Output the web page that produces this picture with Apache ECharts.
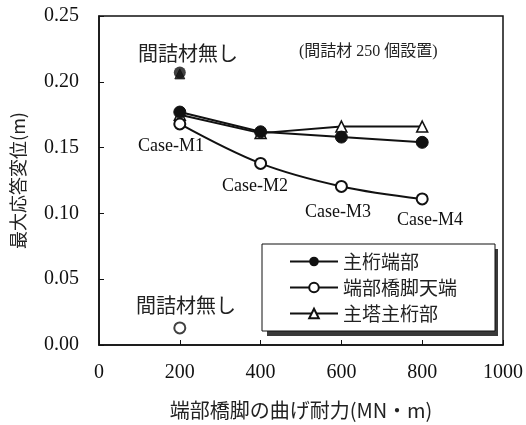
<!DOCTYPE html>
<html><head><meta charset="utf-8">
<script src="https://cdn.jsdelivr.net/npm/echarts@6/dist/echarts.min.js"></script>
<style>html,body{margin:0;padding:0;background:#fff}#c{width:526px;height:425px}</style>
</head><body><div id="c"></div>
<script>
const xCats = [200, 400, 600, 800];
const girderEnd = [0.177, 0.162, 0.158, 0.154];      // 主桁端部
const pierTop = [0.168, 0.138, 0.1205, 0.111];       // 端部橋脚天端
const towerGirder = [0.175, 0.161, 0.166, 0.166];    // 主塔主桁部
const noFillGirder = [[200, 0.207]];
const noFillTower = [[200, 0.206]];
const noFillPier = [[200, 0.013]];
const names = ['主桁端部', '端部橋脚天端', '主塔主桁部'];
const yTicks = [0, 0.05, 0.10, 0.15, 0.20, 0.25];

const serif = '"Liberation Serif","Noto Sans CJK JP",serif';
const jp = '"Noto Sans CJK JP","Liberation Serif",sans-serif';
const pair = arr => xCats.map((x, i) => [x, arr[i]]);

const chart = echarts.init(document.getElementById('c'));
const black = '#111';
chart.setOption({
  animation: false,
  backgroundColor: '#fff',
  grid: { left: 99, right: 20, top: 16, bottom: 78, show: true, borderColor: black, borderWidth: 1.5 },
  xAxis: {
    type: 'value', min: 0, max: 1000, interval: 200,
    name: '端部橋脚の曲げ耐力(MN・m)', nameLocation: 'middle', nameGap: 55,
    nameTextStyle: { fontFamily: jp, fontSize: 20, color: '#222' },
    axisLine: { lineStyle: { color: black, width: 1.5 } },
    axisTick: { inside: true, length: 5, lineStyle: { color: black } },
    axisLabel: { fontFamily: serif, fontSize: 20, color: '#111', margin: 18, formatter: v => String(v) },
    splitLine: { show: false }
  },
  yAxis: {
    type: 'value', min: 0, max: 0.25, interval: 0.05,
    name: '最大応答変位(m)', nameLocation: 'middle', nameGap: 72, nameRotate: 90,
    nameTextStyle: { fontFamily: jp, fontSize: 18, color: '#222' },
    axisLine: { lineStyle: { color: black, width: 1.5 } },
    axisTick: { inside: true, length: 5, lineStyle: { color: black } },
    axisLabel: { fontFamily: serif, fontSize: 20, color: '#111', margin: 20, formatter: v => v.toFixed(2) },
    splitLine: { show: false }
  },
  legend: {
    data: names, orient: 'vertical', left: 262, top: 244, z: 10,
    itemWidth: 48, itemHeight: 12, itemGap: 7,
    padding: [8, 38, 8, 27],
    backgroundColor: '#fff', borderColor: black, borderWidth: 1,
    textStyle: { fontFamily: jp, fontSize: 19, color: '#222' }
  },
  series: [
    { name: names[2], type: 'line', data: pair(towerGirder), symbol: 'triangle', symbolSize: 11,
      lineStyle: { color: black, width: 2 }, itemStyle: { color: '#fff', borderColor: black, borderWidth: 1.5 }, z: 2 },
    { name: names[0], type: 'line', data: pair(girderEnd), symbol: 'circle', symbolSize: 12,
      lineStyle: { color: black, width: 2 }, itemStyle: { color: black, borderColor: black }, z: 3 },
    { name: names[1], type: 'line', data: pair(pierTop), symbol: 'circle', symbolSize: 11, smooth: 0.35,
      lineStyle: { color: black, width: 2 }, itemStyle: { color: '#fff', borderColor: black, borderWidth: 2 }, z: 4 },
    { name: names[2], type: 'scatter', data: noFillTower, symbol: 'triangle', symbolSize: 10,
      itemStyle: { color: black, borderColor: black }, z: 2 },
    { name: names[0], type: 'scatter', data: noFillGirder, symbol: 'circle', symbolSize: 12,
      itemStyle: { color: black }, z: 3 },
    { name: names[1], type: 'scatter', data: noFillPier, symbol: 'circle', symbolSize: 11,
      itemStyle: { color: '#fff', borderColor: black, borderWidth: 2 }, z: 4 }
  ],
  graphic: [
    { type: 'rect', left: 267, top: 249, z: 5, shape: { width: 231, height: 87 }, style: { fill: '#3a3a3a' } },
    { type: 'text', left: 138, top: 43, style: { text: '間詰材無し', font: '20px ' + jp, fill: '#222' } },
    { type: 'text', left: 299, top: 44, style: { text: '(間詰材 250 個設置)', font: '16px ' + serif, fill: '#222' } },
    { type: 'text', left: 136, top: 295, style: { text: '間詰材無し', font: '20px ' + jp, fill: '#222' } },
    { type: 'text', left: 138, top: 137, style: { text: 'Case-M1', font: '18px ' + serif, fill: '#111' } },
    { type: 'text', left: 222, top: 177, style: { text: 'Case-M2', font: '18px ' + serif, fill: '#111' } },
    { type: 'text', left: 305, top: 203, style: { text: 'Case-M3', font: '18px ' + serif, fill: '#111' } },
    { type: 'text', left: 397, top: 211, style: { text: 'Case-M4', font: '18px ' + serif, fill: '#111' } }
  ]
});
</script></body></html>
